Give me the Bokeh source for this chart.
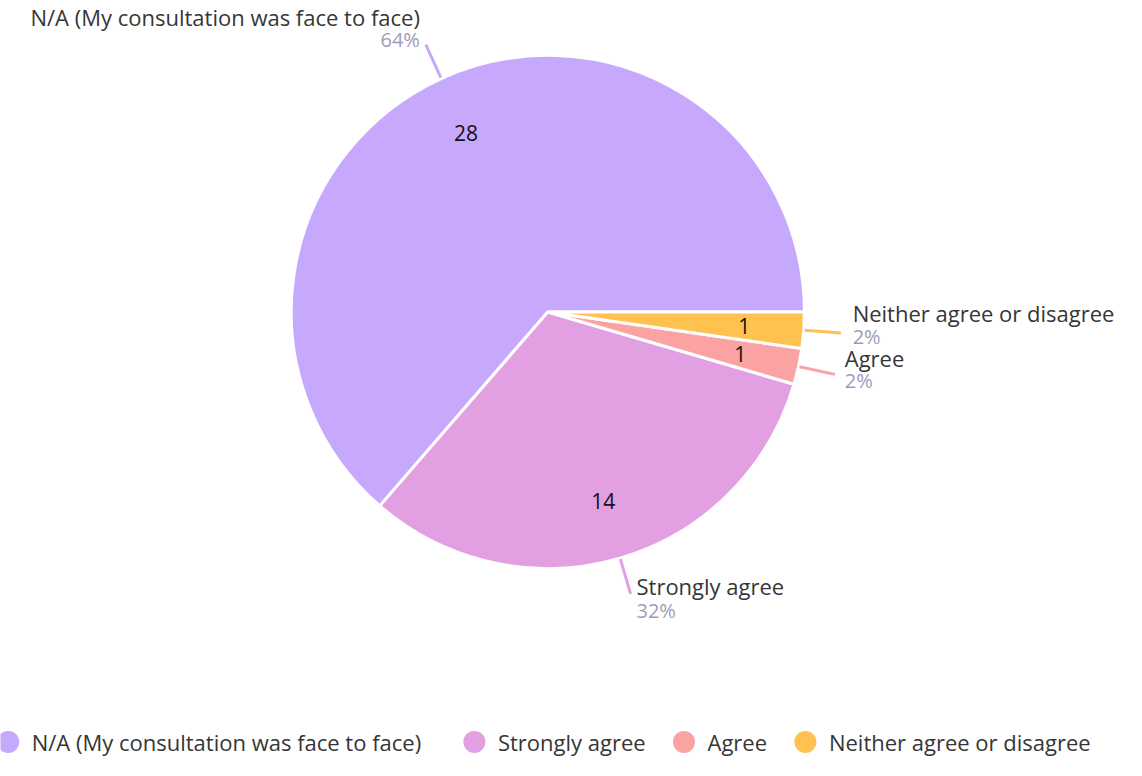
import math
from bokeh.plotting import figure
from bokeh.models import Range1d, ColumnDataSource
from bokeh.core.properties import value
from bokeh.embed import file_html
from bokeh.resources import INLINE

# ---- data ----
categories = ["N/A (My consultation was face to face)", "Strongly agree", "Agree", "Neither agree or disagree"]
counts = [28, 14, 1, 1]
colors = ["#c6a8fd", "#e29fe2", "#fba3a3", "#ffc14f"]

# ---- styling / layout (coordinates in reference-page px, y up) ----
W, H = 1126, 760
PAGE_W, PAGE_H = 1142, 776
FONT = value("Open Sans")
NAME_COLOR = "#363636"
PCT_COLOR = "#9c9cba"
CX, CY = 555, PAGE_H - 318
R = 262
R_IN = 201
LEADER = (263, 300)
# per-label text offsets (dx, name_dy, pct_dy), y up
label_off = [(-6, 28, 5), (6, 8, -17), (10, 17, -6), (12, 20, -4)]
legend_x = [4, 480, 694, 818]
legend_y = PAGE_H - 757

scale = H / PAGE_H
xspan = W / scale
x0r = (PAGE_W - xspan) / 2

p = figure(width=W, height=H, output_backend="svg", toolbar_location=None,
           x_range=Range1d(x0r, x0r + xspan), y_range=Range1d(0, PAGE_H),
           min_border=0, outline_line_color=None)
p.axis.visible = False
p.grid.visible = False
p.background_fill_color = "white"

total = sum(counts)
starts, ends, mids = [], [], []
acc = 0.0
for c in counts:
    a0 = acc / total * 2 * math.pi
    acc += c
    a1 = acc / total * 2 * math.pi
    starts.append(a0); ends.append(a1); mids.append((a0 + a1) / 2)

src = ColumnDataSource(dict(x=[CX] * len(counts), y=[CY] * len(counts),
                            start=starts, end=ends, color=colors))
p.wedge(x="x", y="y", radius=R, start_angle="start", end_angle="end",
        direction="anticlock", fill_color="color", line_color="white",
        line_width=3, source=src)

# inside count labels
p.text(x=[CX + R_IN * math.cos(m) for m in mids],
       y=[CY + R_IN * math.sin(m) for m in mids],
       text=[str(c) for c in counts], text_align="center", text_baseline="middle",
       text_font=FONT, text_font_size="21px", text_color="#111111")

# leader lines and outside labels
for cat, c, m, col, off in zip(categories, counts, mids, colors, label_off):
    xa, ya = CX + LEADER[0] * math.cos(m), CY + LEADER[0] * math.sin(m)
    xb, yb = CX + LEADER[1] * math.cos(m), CY + LEADER[1] * math.sin(m)
    p.line([xa, xb], [ya, yb], line_color=col, line_width=3)
    align = "right" if math.cos(m) < 0 else "left"
    pct = f"{round(c / total * 100)}%"
    p.text(x=[xb + off[0]], y=[yb + off[1]], text=[cat], text_align=align,
           text_baseline="middle", text_font=FONT, text_font_size="22px",
           text_color=NAME_COLOR)
    p.text(x=[xb + off[0]], y=[yb + off[2]], text=[pct], text_align=align,
           text_baseline="middle", text_font=FONT, text_font_size="20px",
           text_color=PCT_COLOR)

# legend
p.scatter(x=legend_x, y=[legend_y] * len(categories), size=22, marker="circle",
          fill_color=colors, line_color=None)
p.text(x=[lx + 24 for lx in legend_x], y=[legend_y] * len(categories), text=categories,
       text_align="left", text_baseline="middle", text_font=FONT,
       text_font_size="22px", text_color=NAME_COLOR)

open("out.html", "w").write(file_html(p, INLINE))
